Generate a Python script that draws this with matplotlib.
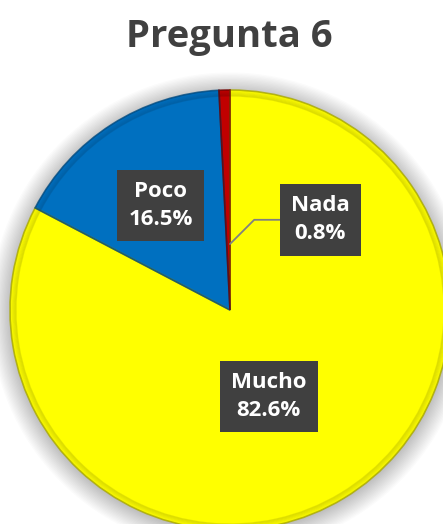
import numpy as np
import matplotlib.pyplot as plt
from matplotlib.patches import Wedge, Circle

plt.rcParams['font.family'] = ['Open Sans', 'DejaVu Sans']

# datos
categorias = ["Mucho", "Poco", "Nada"]
porcentajes = [82.6, 16.5, 0.8]
colores = ["#FFFF00", "#0070C0", "#C00000"]
bordes = ["#A8A800", "#004A80", "#700000"]

W, H = 443, 524
fig = plt.figure(figsize=(W / 100, H / 100), dpi=100)
fig.patch.set_facecolor("white")

# centro y radio del pastel en pixeles
cx, cy, R = 230, 310, 220
ax = fig.add_axes([(cx - R) / W, (H - cy - R) / H, 2 * R / W, 2 * R / H])
ax.axis("off")

# sombra suave alrededor
for k in range(16):
    ax.add_patch(Circle((0.0, -0.01), 1 + 0.006 * k, color="#000000",
                        alpha=0.016, lw=0, zorder=0, clip_on=False))

wedges, _ = ax.pie(porcentajes, colors=colores, startangle=90,
                   counterclock=False, radius=1,
                   wedgeprops=dict(lw=0, zorder=2))
ax.set_xlim(-1, 1)
ax.set_ylim(-1, 1)

# bisel simple en el borde de cada porcion
for w, c in zip(wedges, bordes):
    for i, a in enumerate(np.linspace(0.05, 0.5, 7)):
        ax.add_patch(Wedge((0, 0), 1 - 0.004 * i, w.theta1, w.theta2,
                           width=0.006, color=c, alpha=a * 0.6, lw=0,
                           zorder=3, clip_on=False))
    ax.add_patch(Wedge((0, 0), 1, w.theta1, w.theta2, fill=False,
                       ec=c, lw=1.2, alpha=0.8, zorder=3, clip_on=False))

caja = dict(boxstyle="square,pad=0.5", fc="#404040", ec="none")
txt = dict(color="white", fontsize=16, fontweight="bold", ha="center",
           va="center", linespacing=1.45, zorder=6)

# posiciones de etiquetas (distancia, desplazamiento angular)
ajustes = {"Mucho": (0.43, -7), "Poco": (0.57, 1)}
for w, cat, p in zip(wedges, categorias, porcentajes):
    mid = np.deg2rad((w.theta1 + w.theta2) / 2)
    etiqueta = f"{cat}\n{p:.1f}%"
    if cat in ajustes:
        d, da = ajustes[cat]
        ang = mid + np.deg2rad(da)
        ax.text(d * np.cos(ang), d * np.sin(ang), etiqueta, bbox=caja, **txt)
    else:
        ax.annotate(etiqueta, xy=(0.0, 0.3), xytext=(0.41, 0.41),
                    bbox=caja, **txt,
                    arrowprops=dict(arrowstyle="-", color="#808080", lw=1.3,
                                    connectionstyle="angle,angleA=0,angleB=45,rad=0",
                                    shrinkA=0, shrinkB=0))

fig.text(229 / W, 1 - 47 / H, "Pregunta 6", ha="center", va="baseline",
         fontsize=27.5, fontweight="bold", color="#404040")

fig.savefig("out.png", dpi=100)
